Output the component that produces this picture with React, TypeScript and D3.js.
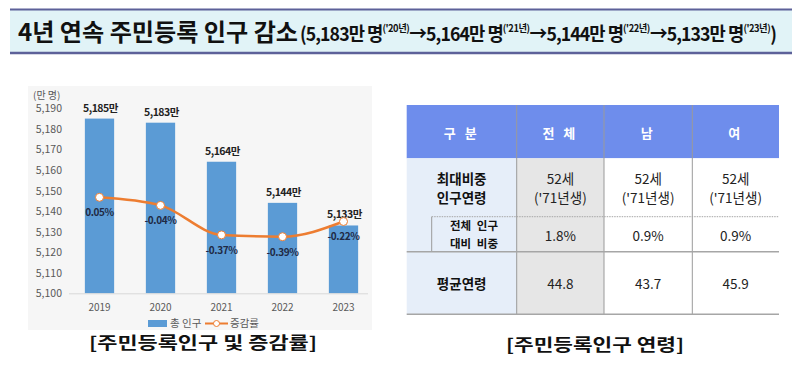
import React from "react";
import * as d3 from "d3";

// chart data
const years = ["2019", "2020", "2021", "2022", "2023"];
const population = [5185, 5183, 5164, 5144, 5133]; // 만 명
const changeRate = [0.05, -0.04, -0.37, -0.39, -0.22]; // %
const yTicks = [5100, 5110, 5120, 5130, 5140, 5150, 5160, 5170, 5180, 5190];

// table data
const tableHeaders = ["구 분", "전 체", "남", "여"];
const peakAge = ["52세", "52세", "52세"];
const peakBirth = ["('71년생)", "('71년생)", "('71년생)"];
const peakShare = ["1.8%", "0.9%", "0.9%"];
const meanAge = ["44.8", "43.7", "45.9"];

const titleSteps = [
  { value: "5,183만 명", year: "('20년)" },
  { value: "5,164만 명", year: "('21년)" },
  { value: "5,144만 명", year: "('22년)" },
  { value: "5,133만 명", year: "('23년)" },
];

const FONT = "'Noto Sans CJK KR', 'Noto Sans', sans-serif";

function Title() {
  return (
    <g>
      <rect x={10} y={9} width={782} height={44} fill="#e1f3f7" />
      <line x1={10} x2={792} y1={9.5} y2={9.5} stroke="#5d6199" strokeWidth={2} />
      <line x1={10} x2={792} y1={53} y2={53} stroke="#5d6199" strokeWidth={2.5} />
      <text x={18} y={41} fontFamily={FONT} fontWeight={700} fontSize={24} fill="#111"
        textLength={280} lengthAdjust="spacingAndGlyphs">
        4년 연속 주민등록 인구 감소
      </text>
      <text x={300} y={41} fontFamily={FONT} fontWeight={700} fontSize={19} fill="#111"
        textLength={476} lengthAdjust="spacingAndGlyphs" letterSpacing={-1}>
        <tspan y={41}>(</tspan>
        {titleSteps.map((s, i) => (
          <React.Fragment key={i}>
            <tspan y={41}>{(i > 0 ? "→" : "") + s.value}</tspan>
            <tspan y={32} fontSize={10} letterSpacing={-0.5}>{s.year}</tspan>
          </React.Fragment>
        ))}
        <tspan y={41}>)</tspan>
      </text>
    </g>
  );
}

function PopulationChart() {
  const x = d3.scaleBand().domain(years).range([69, 374]).paddingInner(0.52).paddingOuter(0.26);
  const y = d3.scaleLinear().domain([5100, 5190]).range([293.3, 108.3]);
  const y2 = d3.scaleLinear().domain([-1, 1]).range([291.3, 112.3]);
  const cx = (d: string) => (x(d) as number) + x.bandwidth() / 2;

  const line = d3
    .line<number>()
    .x((_, i) => cx(years[i]))
    .y((d) => y2(d))
    .curve(d3.curveMonotoneX);

  return (
    <g fontFamily={FONT}>
      <rect x={28} y={86} width={344} height={244} fill="#f6f6f6" />
      <text x={33} y={99} fontSize={10} fill="#595959">(만 명)</text>
      {yTicks.map((t) => (
        <text key={t} x={62} y={y(t) + 4} fontSize={10.5} fill="#595959" textAnchor="end">
          {d3.format(",")(t)}
        </text>
      ))}
      {years.map((yr, i) => (
        <rect key={yr} x={x(yr)} y={y(population[i])} width={x.bandwidth()}
          height={y(5100) - y(population[i])} fill="#5b9bd5" />
      ))}
      <line x1={69} x2={368} y1={293.8} y2={293.8} stroke="#d9d9d9" strokeWidth={1} />
      {years.map((yr) => (
        <text key={yr} x={cx(yr)} y={311} fontSize={10} fill="#595959" textAnchor="middle">
          {yr}
        </text>
      ))}
      {years.map((yr, i) => (
        <text key={yr} x={cx(yr) + 1} y={y(population[i]) - 7} fontSize={10.5} fontWeight={700}
          fill="#222" textAnchor="middle" letterSpacing={-0.5}>
          {d3.format(",")(population[i])}만
        </text>
      ))}
      <path d={line(changeRate) || ""} fill="none" stroke="#ed7d31" strokeWidth={2.5} />
      {changeRate.map((v, i) => (
        <circle key={i} cx={cx(years[i])} cy={y2(v)} r={4} fill="#fff" stroke="#ed7d31" strokeWidth={1} />
      ))}
      {changeRate.map((v, i) => (
        <text key={i} x={cx(years[i])} y={y2(v) + 19} fontSize={10} fontWeight={700}
          fill="#1f2a44" textAnchor="middle" letterSpacing={-0.4}>
          {v.toFixed(2)}%
        </text>
      ))}
      {/* legend */}
      <rect x={148} y={320} width={19} height={7} fill="#5b9bd5" />
      <text x={170} y={327} fontSize={10.5} fill="#595959">총 인구</text>
      <line x1={205} x2={228} y1={323.5} y2={323.5} stroke="#ed7d31" strokeWidth={2} />
      <circle cx={216.5} cy={323.5} r={3} fill="#fff" stroke="#ed7d31" strokeWidth={1} />
      <text x={230} y={327} fontSize={10.5} fill="#595959">증감률</text>
      <text x={203} y={349} fontSize={17} fontWeight={700} fill="#111" textAnchor="middle"
        textLength={228} lengthAdjust="spacingAndGlyphs">
        [주민등록인구 및 증감률]
      </text>
    </g>
  );
}

function AgeTable() {
  const cols = [406.7, 516.7, 604, 692.3, 779];
  const rows = [105, 158.3, 216.7, 251.7, 314.3];
  const subX = 431.7;
  const mid = (i: number) => (cols[i] + cols[i + 1]) / 2;
  return (
    <g fontFamily={FONT}>
      {/* header */}
      <rect x={cols[0]} y={rows[0]} width={cols[4] - cols[0]} height={rows[1] - rows[0]} fill="#6e8dec" />
      {tableHeaders.map((h, i) => (
        <text key={h} x={mid(i)} y={138} fontSize={13} fontWeight={700} fill="#fff"
          textAnchor="middle" letterSpacing={3}>
          {h}
        </text>
      ))}
      {/* body backgrounds */}
      <rect x={cols[0]} y={rows[1]} width={cols[1] - cols[0]} height={rows[4] - rows[1]} fill="#e6eef9" />
      <rect x={cols[1]} y={rows[1]} width={cols[2] - cols[1]} height={rows[4] - rows[1]} fill="#e6e6e6" />
      <rect x={cols[2]} y={rows[1]} width={cols[4] - cols[2]} height={rows[4] - rows[1]} fill="#fff" />
      {/* vertical lines */}
      {cols.slice(1, 4).map((c) => (
        <line key={c} x1={c} x2={c} y1={rows[0]} y2={rows[4]} stroke="#9a9a9a" strokeWidth={1} />
      ))}
      <line x1={subX} x2={subX} y1={rows[2]} y2={rows[3]} stroke="#9a9a9a" strokeWidth={1} />
      {/* horizontal lines */}
      <line x1={subX} x2={cols[4]} y1={rows[2]} y2={rows[2]} stroke="#a6a6a6" strokeWidth={1}
        strokeDasharray="1.5 1" />
      <line x1={cols[0]} x2={cols[4]} y1={rows[3]} y2={rows[3]} stroke="#a6a6a6" strokeWidth={1.5} />
      <line x1={cols[0]} x2={cols[4]} y1={rows[4]} y2={rows[4]} stroke="#a6a6a6" strokeWidth={1.5} />
      {/* row 1 */}
      <text x={461.7} y={184} fontSize={13.5} fontWeight={700} fill="#111" textAnchor="middle">최대비중</text>
      <text x={461.7} y={203} fontSize={13.5} fontWeight={700} fill="#111" textAnchor="middle">인구연령</text>
      {peakAge.map((v, i) => (
        <text key={i} x={mid(i + 1)} y={184} fontSize={13.5} fill="#222" textAnchor="middle">{v}</text>
      ))}
      {peakBirth.map((v, i) => (
        <text key={i} x={mid(i + 1)} y={203} fontSize={13.5} fill="#222" textAnchor="middle">{v}</text>
      ))}
      {/* row 2 */}
      <text x={474} y={229.5} fontSize={11.5} fontWeight={700} fill="#111" textAnchor="middle"
        wordSpacing={3}>전체 인구</text>
      <text x={474} y={247.5} fontSize={11.5} fontWeight={700} fill="#111" textAnchor="middle"
        wordSpacing={3}>대비 비중</text>
      {peakShare.map((v, i) => (
        <text key={i} x={mid(i + 1)} y={240.5} fontSize={13.5} fill="#222" textAnchor="middle">{v}</text>
      ))}
      {/* row 3 */}
      <text x={461.7} y={289} fontSize={13.5} fontWeight={700} fill="#111" textAnchor="middle">평균연령</text>
      {meanAge.map((v, i) => (
        <text key={i} x={mid(i + 1)} y={289} fontSize={13.5} fill="#222" textAnchor="middle">{v}</text>
      ))}
      <text x={595} y={351} fontSize={17} fontWeight={700} fill="#111" textAnchor="middle"
        textLength={178} lengthAdjust="spacingAndGlyphs">
        [주민등록인구 연령]
      </text>
    </g>
  );
}

export default function App() {
  return (
    <svg width={800} height={367} style={{ position: "absolute", left: 0, top: 0, background: "#fff" }}>
      <rect width={800} height={367} fill="#fff" />
      <Title />
      <PopulationChart />
      <AgeTable />
    </svg>
  );
}
